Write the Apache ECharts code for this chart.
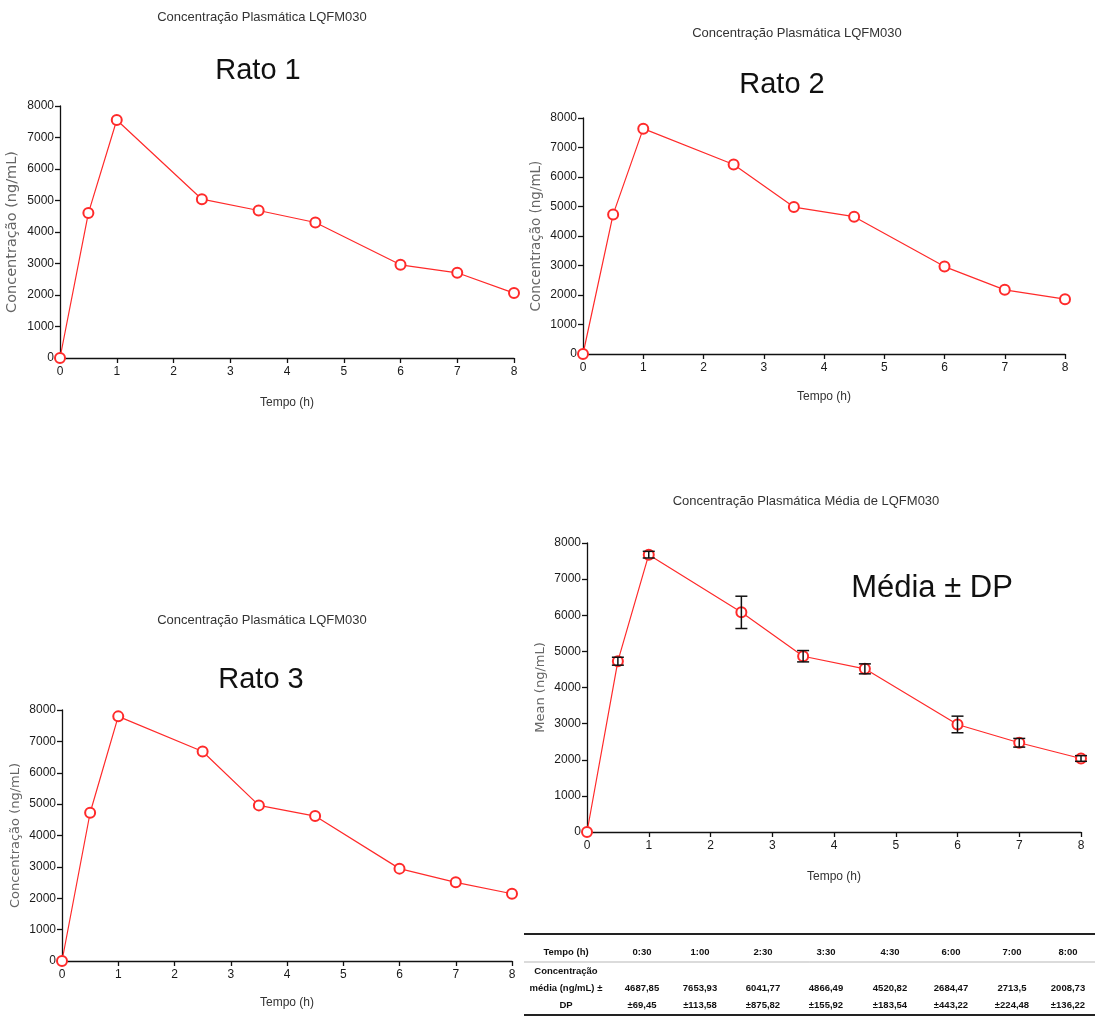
<!DOCTYPE html>
<html>
<head>
<meta charset="utf-8">
<script src="https://cdn.jsdelivr.net/npm/echarts@6/dist/echarts.min.js"></script>
<style>
html,body{margin:0;padding:0;background:#fff;}
#c{width:1095px;height:1017px;}
</style>
</head>
<body>
<div id="c"></div>
<script>
// ---- data ----
const timeH = [0, 0.5, 1, 2.5, 3.5, 4.5, 6, 7, 8];
const rato1 = [0, 4600, 7556, 5041, 4682, 4301, 2959, 2705, 2061];
const rato2 = [0, 4732, 7639, 6423, 4980, 4654, 2963, 2175, 1859];
const rato3 = [0, 4725, 7797, 6677, 4960, 4619, 2944, 2507, 2144];
const meanConc = [0, 4728, 7677, 6080, 4866, 4516, 2977, 2470, 2035];
const meanSD = [0, 110, 92, 447, 157, 138, 230, 120, 78];
const chartTitle = 'Concentração Plasmática LQFM030';
const meanTitle = 'Concentração Plasmática Média de LQFM030';
const ratoLabels = ['Rato 1', 'Rato 2', 'Rato 3'];
const meanLabel = 'Média ± DP';
const yNameRat = 'Concentração (ng/mL)';
const yNameMean = 'Mean (ng/mL)';
const xName = 'Tempo (h)';
const tableHeader = ['Tempo (h)', '0:30', '1:00', '2:30', '3:30', '4:30', '6:00', '7:00', '8:00'];
const tableRowLabel = ['Concentração', 'média (ng/mL) ±', 'DP'];
const tableMean = ['4687,85', '7653,93', '6041,77', '4866,49', '4520,82', '2684,47', '2713,5', '2008,73'];
const tableSD = ['±69,45', '±113,58', '±875,82', '±155,92', '±183,54', '±443,22', '±224,48', '±136,22'];

// ---- layout ----
const grids = [
  {left: 60, top: 106, width: 454, height: 252},
  {left: 583, top: 118, width: 482, height: 236},
  {left: 62, top: 710, width: 450, height: 251},
  {left: 587, top: 543, width: 494, height: 289}
];
const xGaps = [39, 37, 36, 39];
const yNameSize = [14.5, 13.5, 13, 13];
const SANS = "'Liberation Sans',Arial,sans-serif";
const RED = '#ff2a2a';

const chart = echarts.init(document.getElementById('c'));

const xAxes = grids.map((g, i) => ({
  type: 'value', gridIndex: i, min: 0, max: 8, interval: 1,
  name: xName, nameLocation: 'middle', nameGap: xGaps[i],
  nameTextStyle: {fontFamily: SANS, fontSize: 12, color: '#333'},
  axisLine: {onZero: false, lineStyle: {color: '#111', width: 1.3}},
  axisTick: {show: true, length: 5, lineStyle: {color: '#111', width: 1.3}},
  axisLabel: {fontFamily: SANS, fontSize: 12, color: '#1a1a1a', margin: 8},
  splitLine: {show: false}
}));
const yAxes = grids.map((g, i) => ({
  type: 'value', gridIndex: i, min: 0, max: 8000, interval: 1000,
  name: i === 3 ? yNameMean : yNameRat, nameLocation: 'middle', nameGap: 40,
  nameTextStyle: {fontFamily: "'DejaVu Sans',sans-serif", fontSize: yNameSize[i], color: '#666'},
  axisLine: {show: true, lineStyle: {color: '#111', width: 1.3}},
  axisTick: {show: true, length: 5, lineStyle: {color: '#111', width: 1.3}},
  axisLabel: {fontFamily: SANS, fontSize: 12, color: '#1a1a1a', margin: 6, formatter: v => String(v)},
  splitLine: {show: false}
}));

function lineSeries(vals, i) {
  return {
    type: 'line', xAxisIndex: i, yAxisIndex: i,
    data: timeH.map((t, k) => [t, vals[k]]),
    symbol: 'emptyCircle', symbolSize: 10,
    lineStyle: {color: RED, width: 1.2},
    itemStyle: {color: RED, borderColor: RED, borderWidth: 1.1},
    z: 3
  };
}

const errSeries = {
  type: 'custom', xAxisIndex: 3, yAxisIndex: 3,
  data: timeH.map((t, k) => [t, meanConc[k] - meanSD[k], meanConc[k] + meanSD[k]]).filter((d, k) => meanSD[k] > 0),
  renderItem: function (params, api) {
    const lo = api.coord([api.value(0), api.value(1)]);
    const hi = api.coord([api.value(0), api.value(2)]);
    const w = 6;
    const st = {stroke: '#111', lineWidth: 1.5};
    return {
      type: 'group',
      children: [
        {type: 'line', shape: {x1: lo[0], y1: lo[1], x2: hi[0], y2: hi[1]}, style: st},
        {type: 'line', shape: {x1: lo[0] - w, y1: lo[1], x2: lo[0] + w, y2: lo[1]}, style: st},
        {type: 'line', shape: {x1: hi[0] - w, y1: hi[1], x2: hi[0] + w, y2: hi[1]}, style: st}
      ]
    };
  },
  z: 4
};

// ---- free text & table ----
const titleFont = "13px 'Liberation Sans',Arial,sans-serif";
const bigFont = "29px 'Liberation Sans',Arial,sans-serif";
const graphics = [];
function txt(x, y, text, font, fill, align) {
  graphics.push({type: 'text', x: x, y: y, style: {text: text, font: font, fill: fill || '#222', align: align || 'center', verticalAlign: 'middle'}});
}
txt(262, 17, chartTitle, titleFont, '#333');
txt(797, 33, chartTitle, titleFont, '#333');
txt(262, 620, chartTitle, titleFont, '#333');
txt(806, 501, meanTitle, titleFont, '#333');
txt(258, 71, ratoLabels[0], bigFont, '#111');
txt(782, 85, ratoLabels[1], bigFont, '#111');
txt(261, 680, ratoLabels[2], bigFont, '#111');
txt(932, 588, meanLabel, "31px 'Liberation Sans',Arial,sans-serif", '#111');

// table
const tFont = "bold 9.5px 'Liberation Sans',Arial,sans-serif";
const colX = [566, 642, 700, 763, 826, 890, 951, 1012, 1068];
graphics.push({type: 'line', shape: {x1: 524, y1: 934, x2: 1095, y2: 934}, style: {stroke: '#222', lineWidth: 2}});
graphics.push({type: 'line', shape: {x1: 524, y1: 962, x2: 1095, y2: 962}, style: {stroke: '#888', lineWidth: 0.6}});
graphics.push({type: 'line', shape: {x1: 524, y1: 1015, x2: 1095, y2: 1015}, style: {stroke: '#222', lineWidth: 2}});
tableHeader.forEach((h, k) => txt(colX[k], 952, h, tFont, '#111'));
txt(colX[0], 971, tableRowLabel[0], tFont, '#111');
txt(colX[0], 988, tableRowLabel[1], tFont, '#111');
txt(colX[0], 1005, tableRowLabel[2], tFont, '#111');
tableMean.forEach((v, k) => txt(colX[k + 1], 988, v, tFont, '#111'));
tableSD.forEach((v, k) => txt(colX[k + 1], 1005, v, tFont, '#111'));

chart.setOption({
  animation: false,
  backgroundColor: '#fff',
  grid: grids,
  xAxis: xAxes,
  yAxis: yAxes,
  series: [lineSeries(rato1, 0), lineSeries(rato2, 1), lineSeries(rato3, 2), lineSeries(meanConc, 3), errSeries],
  graphic: graphics
});
</script>
</body>
</html>
